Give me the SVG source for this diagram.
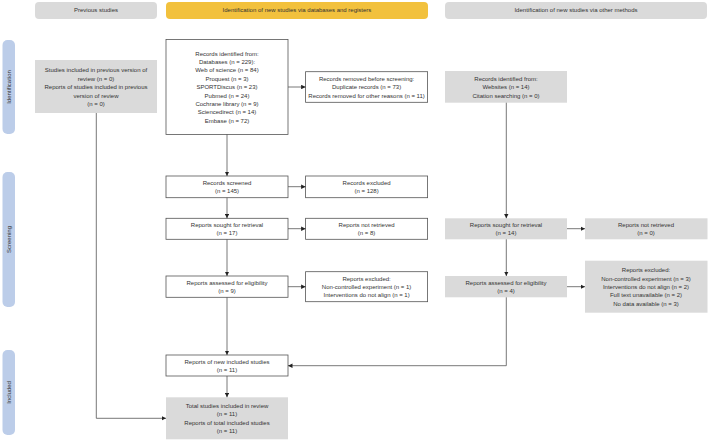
<svg xmlns="http://www.w3.org/2000/svg" width="708" height="441" viewBox="0 0 708 441">
<defs>
<marker id="ah" viewBox="0 0 6 6" refX="6" refY="3" markerWidth="4.5" markerHeight="4.5" orient="auto" markerUnits="userSpaceOnUse"><path d="M0,0 L6,3 L0,6 z" fill="#222"/></marker>
</defs>
<style>
text{font-family:"Liberation Sans",Arial,sans-serif;font-size:6px;fill:#333;text-anchor:middle}
.w{fill:#fff;stroke:#555;stroke-width:0.8}
.g{fill:#dadada}
.hdr{fill:#dadada}
.y{fill:#f2c13d}
.pill{fill:#bccde9}
.c{fill:none;stroke:#555;stroke-width:0.8}
</style>
<g id="hdr-prev"><rect class="hdr" x="35" y="2" width="122" height="17" rx="4"/><text x="96" y="12.3">Previous studies</text></g>
<g id="hdr-db"><rect class="y" x="166" y="2" width="262" height="17" rx="4"/><text x="297" y="12.3">Identification of new studies via databases and registers</text></g>
<g id="hdr-other"><rect class="hdr" x="445" y="2" width="262" height="17" rx="4"/><text x="576" y="12.3">Identification of new studies via other methods</text></g>
<g id="phase-identification"><rect class="pill" x="2.5" y="40" width="12.5" height="94" rx="5"/><text transform="translate(10.9,87) rotate(-90)">Identification</text></g>
<g id="phase-screening"><rect class="pill" x="2.5" y="172" width="12.5" height="135" rx="5"/><text transform="translate(10.9,239.5) rotate(-90)">Screening</text></g>
<g id="phase-included"><rect class="pill" x="2.5" y="350" width="12.5" height="85" rx="5"/><text transform="translate(10.9,392.5) rotate(-90)">Included</text></g>
<g id="prev-studies"><rect class="g" x="35" y="60" width="122" height="53"/>
<text x="96" y="72.2">Studies included in previous version of</text>
<text x="96" y="80.9">review (n = 0)</text>
<text x="96" y="88.9">Reports of studies included in previous</text>
<text x="96" y="97.5">version of review</text>
<text x="96" y="105.9">(n = 0)</text></g>
<g id="records-identified"><rect class="w" x="166" y="39.5" width="122" height="95"/>
<text x="227" y="55.5">Records identified from:</text>
<text x="227" y="63.9">Databases (n = 229):</text>
<text x="227" y="72.2">Web of science (n = 84)</text>
<text x="227" y="80.5">Proquest (n = 3)</text>
<text x="227" y="88.9">SPORTDiscus (n = 23)</text>
<text x="227" y="97.5">Pubmed (n = 24)</text>
<text x="227" y="105.5">Cochrane library (n = 9)</text>
<text x="227" y="113.9">Sciencedirect (n = 14)</text>
<text x="227" y="122.5">Embase (n = 72)</text></g>
<g id="records-removed"><rect class="w" x="305.6" y="71.7" width="122" height="30.6"/>
<text x="366.6" y="80.5">Records removed before screening:</text>
<text x="366.6" y="88.9">Duplicate records (n = 73)</text>
<text x="366.6" y="97.5">Records removed for other reasons (n = 11)</text></g>
<g id="other-identified"><rect class="g" x="445" y="71" width="122" height="31.7"/>
<text x="506" y="80.5">Records identified from:</text>
<text x="506" y="88.9">Websites (n = 14)</text>
<text x="506" y="97.5">Citation searching (n = 0)</text></g>
<g id="records-screened"><rect class="w" x="166" y="176" width="122" height="21.7"/>
<text x="227" y="184.5">Records screened</text>
<text x="227" y="192.9">(n = 145)</text></g>
<g id="records-excluded"><rect class="w" x="305.6" y="176" width="122" height="21.7"/>
<text x="366.6" y="184.5">Records excluded</text>
<text x="366.6" y="192.9">(n = 128)</text></g>
<g id="reports-sought"><rect class="w" x="166" y="218.3" width="122" height="21"/>
<text x="227" y="226.5">Reports sought for retrieval</text>
<text x="227" y="234.9">(n = 17)</text></g>
<g id="reports-not-retrieved"><rect class="w" x="305.6" y="218.3" width="122" height="21"/>
<text x="366.6" y="226.5">Reports not retrieved</text>
<text x="366.6" y="234.9">(n = 8)</text></g>
<g id="other-sought"><rect class="g" x="445" y="218.3" width="122" height="21"/>
<text x="506" y="226.5">Reports sought for retrieval</text>
<text x="506" y="234.9">(n = 14)</text></g>
<g id="other-not-retrieved"><rect class="g" x="585" y="218.3" width="122.5" height="21"/>
<text x="646" y="226.5">Reports not retrieved</text>
<text x="646" y="234.9">(n = 0)</text></g>
<g id="reports-assessed"><rect class="w" x="166" y="276" width="122" height="21.3"/>
<text x="227" y="284.5">Reports assessed for eligibility</text>
<text x="227" y="292.9">(n = 9)</text></g>
<g id="reports-excluded"><rect class="w" x="305.6" y="271.7" width="122" height="30"/>
<text x="366.6" y="280.5">Reports excluded:</text>
<text x="366.6" y="288.9">Non-controlled experiment (n = 1)</text>
<text x="366.6" y="296.9">Interventions do not align (n = 1)</text></g>
<g id="other-assessed"><rect class="g" x="445" y="276" width="122" height="21.3"/>
<text x="506" y="284.5">Reports assessed for eligibility</text>
<text x="506" y="292.9">(n = 4)</text></g>
<g id="other-excluded"><rect class="g" x="585" y="260.7" width="122.5" height="52"/>
<text x="646" y="271.5">Reports excluded:</text>
<text x="646" y="280.5">Non-controlled experiment (n = 3)</text>
<text x="646" y="288.9">Interventions do not align (n = 2)</text>
<text x="646" y="296.9">Full text unavailable (n = 2)</text>
<text x="646" y="305.5">No data available (n = 3)</text></g>
<g id="new-included"><rect class="w" x="166" y="355" width="122" height="21"/>
<text x="227" y="363.9">Reports of new included studies</text>
<text x="227" y="372.2">(n = 11)</text></g>
<g id="total-included"><rect class="g" x="166" y="397.3" width="122" height="42"/>
<text x="227" y="407.5">Total studies included in review</text>
<text x="227" y="415.9">(n = 11)</text>
<text x="227" y="424.5">Reports of total included studies</text>
<text x="227" y="432.9">(n = 11)</text></g>
<g id="connectors">
<path class="c" marker-end="url(#ah)" d="M227,134.3 V176"/>
<path class="c" marker-end="url(#ah)" d="M288,87 H305.6"/>
<path class="c" marker-end="url(#ah)" d="M288,186.7 H305.6"/>
<path class="c" marker-end="url(#ah)" d="M227,197.7 V218.3"/>
<path class="c" marker-end="url(#ah)" d="M288,228.7 H305.6"/>
<path class="c" marker-end="url(#ah)" d="M227,239.3 V276"/>
<path class="c" marker-end="url(#ah)" d="M288,286.7 H305.6"/>
<path class="c" marker-end="url(#ah)" d="M227,297.3 V355"/>
<path class="c" marker-end="url(#ah)" d="M227,376 V397.3"/>
<path class="c" marker-end="url(#ah)" d="M96.3,113 V418.3 H166"/>
<path class="c" marker-end="url(#ah)" d="M506.3,102.7 V218.3"/>
<path class="c" marker-end="url(#ah)" d="M567,228.7 H585"/>
<path class="c" marker-end="url(#ah)" d="M506.3,239.3 V276"/>
<path class="c" marker-end="url(#ah)" d="M567,286.7 H585"/>
<path class="c" marker-end="url(#ah)" d="M506.3,297.3 V365.7 H288"/>
</g>
</svg>
